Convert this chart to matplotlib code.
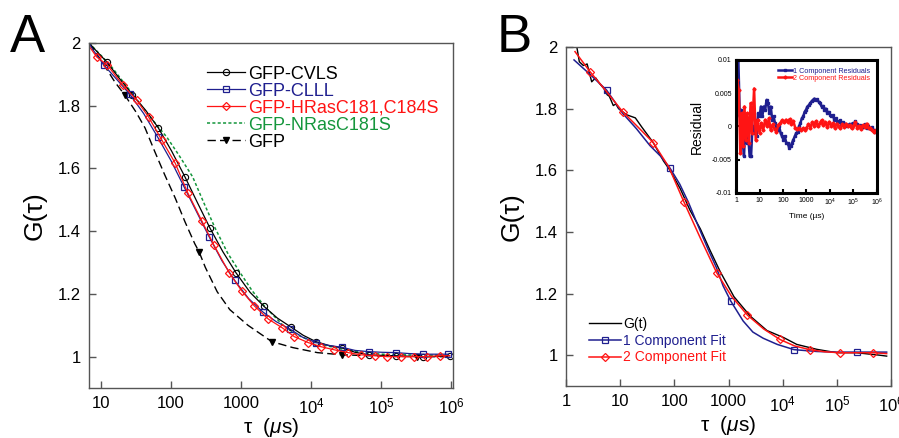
import numpy as np
import matplotlib
matplotlib.use("Agg")
from matplotlib import pyplot as plt
from matplotlib.ticker import FixedLocator, FixedFormatter, NullLocator

plt.rcParams['font.family'] = ['Liberation Sans', 'DejaVu Sans']
plt.rcParams['mathtext.fontset'] = 'custom'
plt.rcParams['mathtext.rm'] = 'Liberation Sans'
plt.rcParams['mathtext.it'] = 'Liberation Sans:italic'

# ---- panel A data (log10 tau in us, G) ----
cvls_lt = [0.83, 0.89, 1.08, 1.27, 1.45, 1.64, 1.82, 2.01, 2.20, 2.38, 2.557, 2.74, 2.93, 3.13,
           3.33, 3.52, 3.71, 3.89, 4.07, 4.25, 4.44, 4.63, 4.83, 5.02, 5.22, 5.41, 5.60, 5.79, 5.98]
cvls_g = [2.000, 1.985, 1.940, 1.885, 1.835, 1.785, 1.729, 1.655, 1.573, 1.490, 1.410, 1.335, 1.267, 1.205,
          1.160, 1.123, 1.095, 1.068, 1.048, 1.036, 1.028, 1.014, 1.006, 1.004, 1.003, 1.001, 1.000, 1.001, 1.003]

clll_lt = [0.83, 0.88, 1.04, 1.22, 1.41, 1.61, 1.81, 2.00, 2.19, 2.37, 2.55, 2.73, 2.91, 3.11,
           3.31, 3.50, 3.70, 3.88, 4.07, 4.25, 4.44, 4.63, 4.83, 5.02, 5.21, 5.40, 5.60, 5.78, 5.96]
clll_g = [2.000, 1.980, 1.930, 1.885, 1.837, 1.775, 1.700, 1.625, 1.540, 1.460, 1.380, 1.305, 1.243, 1.185,
          1.143, 1.112, 1.088, 1.062, 1.045, 1.036, 1.030, 1.020, 1.016, 1.014, 1.013, 1.010, 1.008, 1.008, 1.008]

hras_lt = [0.83, 0.94, 1.09, 1.31, 1.51, 1.68, 1.87, 2.06, 2.24, 2.44, 2.61, 2.83, 3.01, 3.19, 3.39,
           3.59, 3.76, 3.96, 4.14, 4.33, 4.53, 4.71, 4.91, 5.09, 5.28, 5.47, 5.66, 5.84, 5.98]
hras_g = [1.990, 1.955, 1.930, 1.866, 1.818, 1.764, 1.690, 1.617, 1.522, 1.433, 1.357, 1.268, 1.210, 1.162, 1.120,
          1.092, 1.064, 1.045, 1.032, 1.022, 1.013, 1.006, 1.003, 1.000, 1.000, 1.000, 1.000, 1.003, 1.003]

nras_lt = [0.83, 1.13, 1.46, 1.66, 1.94, 2.12, 2.31, 2.47, 2.63, 2.81, 2.99, 3.16, 3.34, 3.60,
           3.80, 4.00, 4.20, 4.40, 4.70, 5.00, 5.50, 6.00]
nras_g = [2.000, 1.930, 1.835, 1.775, 1.700, 1.640, 1.573, 1.490, 1.410, 1.330, 1.267, 1.210, 1.160, 1.100,
          1.070, 1.050, 1.036, 1.026, 1.015, 1.008, 1.005, 1.005]

gfp_lt = [0.83, 1.00, 1.20, 1.34, 1.50, 1.63, 1.77, 1.91, 2.06, 2.20, 2.34, 2.40, 2.49, 2.66, 2.84,
          3.10, 3.44, 3.74, 4.09, 4.44, 5.00, 5.51, 6.00]
gfp_g = [2.000, 1.945, 1.875, 1.834, 1.780, 1.729, 1.653, 1.580, 1.506, 1.430, 1.360, 1.335, 1.285, 1.207, 1.150,
         1.100, 1.048, 1.029, 1.013, 1.006, 1.002, 1.000, 1.000]

# ---- panel B data ----
gt_lt = [0.20, 0.246, 0.32, 0.39, 0.474, 0.547, 0.627, 0.70, 0.76, 0.80, 0.873, 0.92, 0.97, 1.12, 1.28,
         1.40, 1.61, 1.80, 1.92, 2.11, 2.29, 2.48, 2.66, 2.85, 3.10, 3.40, 3.71, 4.02, 4.26, 4.63,
         5.00, 5.36, 5.79, 5.92]
gt_g = [2.000, 1.952, 1.940, 1.945, 1.887, 1.900, 1.880, 1.865, 1.845, 1.840, 1.810, 1.815, 1.800, 1.780, 1.770,
        1.740, 1.690, 1.630, 1.600, 1.540, 1.470, 1.410, 1.340, 1.270, 1.190, 1.127, 1.080, 1.057, 1.035, 1.019,
        1.008, 1.008, 1.000, 0.997]

fit1_lt = [0.148, 0.45, 0.75, 1.05, 1.30, 1.55, 1.75, 1.92, 2.10, 2.26, 2.45, 2.62, 2.78, 2.90, 3.04,
           3.27, 3.45, 3.64, 3.90, 4.21, 4.63, 5.00, 5.37, 5.92]
fit1_g = [1.958, 1.910, 1.860, 1.784, 1.735, 1.680, 1.645, 1.607, 1.555, 1.496, 1.415, 1.345, 1.283, 1.225, 1.176,
          1.111, 1.075, 1.055, 1.035, 1.018, 1.012, 1.010, 1.010, 1.010]

fit2_lt = [0.166, 0.443, 0.75, 1.046, 1.33, 1.61, 1.90, 2.18, 2.48, 2.78, 3.06, 3.35, 3.65, 3.95,
           4.22, 4.50, 4.78, 5.06, 5.36, 5.67, 5.92]
fit2_g = [1.985, 1.920, 1.855, 1.790, 1.740, 1.690, 1.610, 1.496, 1.380, 1.268, 1.190, 1.130, 1.085, 1.051,
          1.030, 1.018, 1.011, 1.008, 1.008, 1.008, 1.005]

# ---- inset residuals ----
res1_lt = [0.05, 0.10, 0.16, 0.22, 0.28, 0.34, 0.40, 0.46, 0.52, 0.58, 0.64, 0.70, 0.76, 0.82, 0.88, 0.94,
           1.00, 1.06, 1.12, 1.18, 1.24, 1.30, 1.36, 1.42, 1.48, 1.54, 1.60, 1.66, 1.72, 1.78, 1.84, 1.90,
           1.96, 2.02, 2.08, 2.14, 2.20, 2.26, 2.32, 2.38, 2.44, 2.50, 2.56, 2.62, 2.68, 2.74, 2.80, 2.86,
           2.92, 2.98, 3.04, 3.10, 3.16, 3.22, 3.28, 3.34, 3.40, 3.46, 3.52, 3.58, 3.64, 3.70, 3.76, 3.82,
           3.88, 3.94, 4.00, 4.06, 4.12, 4.18, 4.24, 4.30, 4.36, 4.42, 4.48, 4.54, 4.60, 4.66, 4.72, 4.78,
           4.84, 4.90, 4.96, 5.02, 5.08, 5.14, 5.20, 5.26, 5.32, 5.38, 5.44, 5.50, 5.56, 5.62, 5.68, 5.74,
           5.80, 5.86, 5.92]
res1 = [0.0098, 0.0100, 0.0015, 0.0025, -0.0020, -0.0045, 0.0005, -0.0025, -0.0015, -0.0045, -0.0045, 0.0000,
        -0.0010, 0.0010, -0.0015, 0.0020, 0.0015, 0.0030, 0.0015, 0.0030, 0.0025, 0.0040, 0.0035, 0.0020,
        0.0030, 0.0010, 0.0015, 0.0005, 0.0000, -0.0005, 0.0000, -0.0010, -0.0015, -0.0020, -0.0015, -0.0025,
        -0.0025, -0.0032, -0.0030, -0.0025, -0.0020, -0.0015, -0.0010, -0.0008, 0.0000, 0.0005, 0.0012, 0.0015,
        0.0022, 0.0025, 0.0030, 0.0032, 0.0035, 0.0038, 0.0040, 0.0042, 0.0040, 0.0041, 0.0037, 0.0035,
        0.0030, 0.0031, 0.0025, 0.0027, 0.0020, 0.0022, 0.0018, 0.0015, 0.0017, 0.0010, 0.0012, 0.0008,
        0.0006, 0.0009, 0.0004, 0.0006, 0.0002, 0.0004, 0.0000, 0.0002, 0.0004, 0.0001, 0.0005, 0.0003,
        0.0008, 0.0003, 0.0000, 0.0002, -0.0002, 0.0000, -0.0001, 0.0003, -0.0003, 0.0001, -0.0002, -0.0004,
        -0.0001, -0.0006, -0.0008]

res2_lt = [0.05, 0.12, 0.18, 0.24, 0.30, 0.36, 0.42, 0.48, 0.55, 0.62, 0.68, 0.77, 0.84, 0.92, 1.00, 1.08,
           1.16, 1.24, 1.32, 1.40, 1.48, 1.56, 1.64, 1.72, 1.80, 1.88, 1.96, 2.04, 2.12, 2.20, 2.28, 2.36,
           2.44, 2.52, 2.60, 2.68, 2.76, 2.84, 2.92, 3.00, 3.08, 3.16, 3.24, 3.32, 3.40, 3.48, 3.56, 3.64,
           3.72, 3.80, 3.88, 3.96, 4.04, 4.12, 4.20, 4.28, 4.36, 4.44, 4.52, 4.60, 4.68, 4.76, 4.84, 4.92,
           5.00, 5.08, 5.16, 5.24, 5.32, 5.40, 5.48, 5.56, 5.64, 5.72, 5.80, 5.88, 5.94]
res2 = [0.0070, 0.0055, -0.0040, 0.0020, -0.0030, 0.0030, -0.0020, 0.0020, -0.0025, 0.0035, -0.0010, 0.0057,
        -0.0020, 0.0010, -0.0010, 0.0005, -0.0005, 0.0010, 0.0000, 0.0012, -0.0006, 0.0003, -0.0004, -0.0008,
        0.0002, 0.0005, 0.0009, 0.0006, 0.0010, 0.0007, 0.0011, 0.0004, 0.0008, -0.0002, -0.0004, -0.0003,
        -0.0006, -0.0003, -0.0005, -0.0002, 0.0003, -0.0002, 0.0006, 0.0001, 0.0008, 0.0000, 0.0005, 0.0009,
        0.0002, 0.0006, -0.0001, 0.0007, 0.0001, 0.0005, -0.0002, 0.0004, 0.0001, -0.0003, 0.0003, -0.0001,
        0.0004, 0.0000, 0.0002, -0.0003, 0.0001, 0.0006, -0.0002, 0.0001, -0.0004, 0.0002, -0.0001, 0.0004,
        -0.0003, -0.0002, -0.0006, -0.0009, -0.0006]

xtick_vals = [1, 10, 100, 1000, 1e4, 1e5, 1e6]
xtick_labels = ['1', '10', '100', '1000', '$10^4$', '$10^5$', '$10^6$']
ytick_vals = [1, 1.2, 1.4, 1.6, 1.8, 2]
ytick_labels = ['1', '1.2', '1.4', '1.6', '1.8', '2']
rtick_vals = [-0.01, -0.005, 0, 0.005, 0.01]
rtick_labels = ['-0.01', '-0.005', '0', '0.005', '0.01']

BLACK = 'black'
BLUE = '#1f1f8f'
RED = '#ff1414'
GREEN = '#14963c'
FRAME = '#555555'


def t(lt):
    return 10 ** np.array(lt)


def style_main(ax, xlim):
    ax.set_xscale('log')
    ax.set_xlim(*xlim)
    ax.set_ylim(0.9, 2.0)
    ax.xaxis.set_major_locator(FixedLocator(xtick_vals))
    ax.xaxis.set_major_formatter(FixedFormatter(xtick_labels))
    ax.xaxis.set_minor_locator(NullLocator())
    ax.yaxis.set_major_locator(FixedLocator(ytick_vals))
    ax.yaxis.set_major_formatter(FixedFormatter(ytick_labels))
    ax.tick_params(direction='in', length=5, width=1, color=FRAME, labelsize=12, pad=6)
    for s in ax.spines.values():
        s.set_color(FRAME)
        s.set_linewidth(1)
    ax.set_xlabel(r'τ  ($\mu$s)', fontsize=15, labelpad=0)
    ax.set_ylabel('G(τ)', fontsize=19, labelpad=8)


fig = plt.figure(figsize=(8.99, 4.38), dpi=100)

# ---------------- panel A ----------------
axA = fig.add_axes([0.099, 0.114, 0.405, 0.788])
axA.plot(t(nras_lt), nras_g, ls=(0, (2, 1.5)), color=GREEN, lw=1.1, label='GFP-NRasC181S')
axA.plot(t(gfp_lt), gfp_g, ls=(0, (6, 3)), color=BLACK, lw=1.0, marker='v', ms=5,
         markevery=[3, 11, 16, 19, 21], label='GFP')
axA.plot(t(cvls_lt), cvls_g, color=BLACK, lw=0.9, marker='o', ms=4.5, mfc='none', mew=0.8,
         markevery=(2, 2), label='GFP-CVLS')
axA.plot(t(clll_lt), clll_g, color=BLUE, lw=0.9, marker='s', ms=5, mfc='none', mew=0.9,
         markevery=(2, 2), label='GFP-CLLL')
axA.plot(t(hras_lt), hras_g, color=RED, lw=0.9, marker='D', ms=3.8, mfc='none', mew=0.9,
         markevery=list(range(1, 28)), label='GFP-HRasC181,C184S')
style_main(axA, (6.75, 1.07e6))
h, l = axA.get_legend_handles_labels()
order = [2, 3, 4, 0, 1]
axA.legend([h[i] for i in order], [l[i] for i in order], loc='upper left',
           bbox_to_anchor=(0.3, 0.96), frameon=False, fontsize=13, handlelength=2.1,
           handletextpad=0.15, labelspacing=0.0, labelcolor='linecolor', borderpad=0)

# ---------------- panel B ----------------
axB = fig.add_axes([0.6296, 0.1187, 0.3615, 0.774])
axB.plot(t(gt_lt), gt_g, color=BLACK, lw=1.0, label='G(t)')
axB.plot(t(fit1_lt), fit1_g, color=BLUE, lw=1.1, marker='s', ms=5, mfc='none', mew=0.9,
         markevery=[2, 7, 14, 19, 22], label='1 Component Fit')
axB.plot(t(fit2_lt), fit2_g, color=RED, lw=1.1, marker='D', ms=3.8, mfc='none', mew=0.9,
         markevery=(1, 2), label='2 Component Fit')
style_main(axB, (1, 1e6))
axB.legend(loc='lower left', bbox_to_anchor=(0.05, 0.043), frameon=False, fontsize=10,
           handlelength=2.3, handletextpad=0.15, labelspacing=0.2, labelcolor='linecolor', borderpad=0)

# ---------------- inset ----------------
axI = fig.add_axes([0.8187, 0.5594, 0.1568, 0.3037])
axI.plot(t(res1_lt), res1, color=BLUE, lw=1.8, marker='s', ms=1.8, label='1 Component Residuals')
axI.plot(t(res2_lt), res2, color=RED, lw=1.8, marker='D', ms=1.6, label='2 Component Residuals')
axI.set_xscale('log')
axI.set_xlim(1, 1e6)
axI.set_ylim(-0.01, 0.01)
axI.xaxis.set_major_locator(FixedLocator(xtick_vals))
axI.xaxis.set_major_formatter(FixedFormatter(xtick_labels))
axI.xaxis.set_minor_locator(NullLocator())
axI.yaxis.set_major_locator(FixedLocator(rtick_vals))
axI.yaxis.set_major_formatter(FixedFormatter(rtick_labels))
axI.tick_params(direction='in', length=3, width=1.5, labelsize=5, pad=3)
for s in axI.spines.values():
    s.set_linewidth(2.2)
axI.set_xlabel('Time (µs)', fontsize=6, labelpad=3)
axI.set_ylabel('Residual', fontsize=10, labelpad=6)
axI.legend(loc='upper left', bbox_to_anchor=(0.27, 0.97), frameon=False, fontsize=5.2,
           handlelength=2.0, handletextpad=0.1, labelspacing=0.0, labelcolor='linecolor', borderpad=0)

fig.text(0.011, 0.881, 'A', fontsize=38, va='baseline')
fig.text(0.552, 0.881, 'B', fontsize=38, va='baseline')

fig.savefig('out.png', dpi=100)
